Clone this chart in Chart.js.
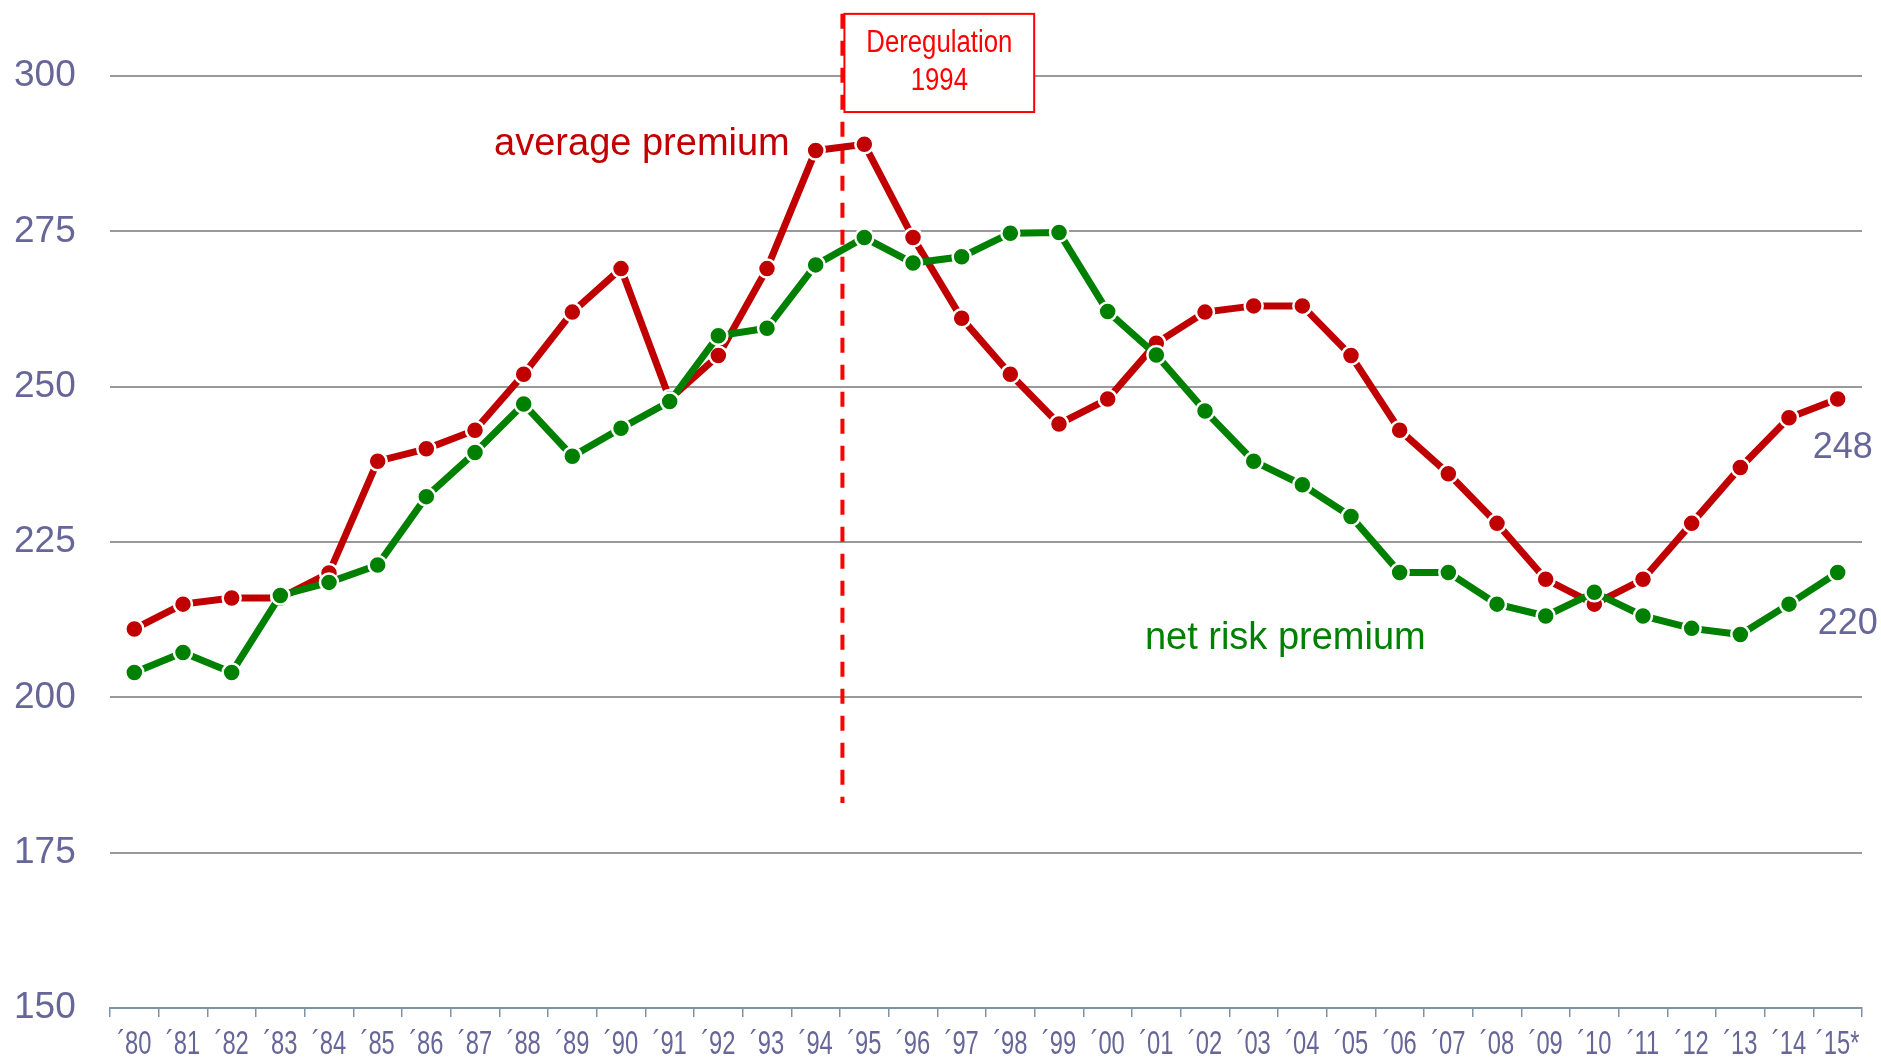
<!DOCTYPE html>
<html>
<head>
<meta charset="utf-8">
<script src="https://cdn.jsdelivr.net/npm/chart.js@4"></script>
<style>
  html, body { margin: 0; padding: 0; background: #ffffff; }
  #wrap { width: 1881px; height: 1059px; position: relative; }
</style>
</head>
<body>
<div id="wrap"><canvas id="premium_chart"></canvas></div>
<script>
// years on the x axis
const years = ['´80', '´81', '´82', '´83', '´84', '´85', '´86', '´87', '´88', '´89',
               '´90', '´91', '´92', '´93', '´94', '´95', '´96', '´97', '´98', '´99',
               '´00', '´01', '´02', '´03', '´04', '´05', '´06', '´07', '´08', '´09',
               '´10', '´11', '´12', '´13', '´14', '´15*'];

// average premium (red)
const averagePremium = [211, 215, 216, 216, 220, 238, 240, 243, 252, 262,
                        269, 248, 255, 269, 288, 289, 274, 261, 252, 244,
                        248, 257, 262, 263, 263, 255, 243, 236, 228, 219,
                        215, 219, 228, 237, 245, 248];

// net risk premium (green)
const netRiskPremium = [204, 207.2, 204, 216.4, 218.5, 221.3, 232.3, 239.4, 247.2, 238.8,
                        243.3, 247.6, 258.2, 259.4, 269.6, 274, 269.9, 270.9, 274.7, 274.8,
                        262.1, 255.1, 246.1, 238, 234.2, 229.1, 220.1, 220.1, 215, 213.1,
                        216.9, 213.1, 211.1, 210.1, 215, 220.1];

const yTicks = [150, 175, 200, 225, 250, 275, 300];

const RED = '#c00000';
const GREEN = '#008000';
const SLATE = '#666699';
const AXIS = '#7f93a6';
const FONT = '"Liberation Sans", Arial, sans-serif';

Chart.defaults.font.family = FONT;

// 1994 deregulation marker (x in category units, y in premium units)
const dereg = { x: 14.55, yTop: 310, yBottom: 183, boxRight: 18.49, boxBottom: 294.2 };

function squeezedText(ctx, text, x, y, sx) {
  ctx.save();
  ctx.translate(x, y);
  ctx.scale(sx, 1);
  ctx.fillText(text, 0, 0);
  ctx.restore();
}

const annotate = {
  id: 'annotate',
  beforeDatasetsDraw(chart) {
    const { ctx, scales: { x, y } } = chart;
    ctx.save();
    ctx.strokeStyle = '#ff0000';
    ctx.lineWidth = 4;
    ctx.setLineDash([15, 12]);
    const px = x.getPixelForValue(dereg.x);
    ctx.beginPath();
    ctx.moveTo(px, y.getPixelForValue(dereg.yTop));
    ctx.lineTo(px, y.getPixelForValue(dereg.yBottom));
    ctx.stroke();
    ctx.restore();
  },
  afterDraw(chart) {
    const { ctx, scales: { x, y } } = chart;
    ctx.save();
    ctx.textAlign = 'center';
    ctx.textBaseline = 'middle';

    // condensed year labels under the axis
    ctx.font = '33px ' + FONT;
    ctx.fillStyle = SLATE;
    years.forEach((t, i) => squeezedText(ctx, t, x.getPixelForTick(i), x.top + 37, 0.72));

    // deregulation box
    const left = x.getPixelForValue(dereg.x) + 2;
    const right = x.getPixelForValue(dereg.boxRight);
    const top = y.getPixelForValue(dereg.yTop);
    const bottom = y.getPixelForValue(dereg.boxBottom);
    ctx.fillStyle = '#ffffff';
    ctx.fillRect(left, top, right - left, bottom - top);
    ctx.strokeStyle = '#ff0000';
    ctx.lineWidth = 2;
    ctx.strokeRect(left, top, right - left, bottom - top);

    ctx.fillStyle = '#ff0000';
    ctx.font = '31px ' + FONT;
    const cx = (left + right) / 2;
    const sx = 146 / ctx.measureText('Deregulation').width;
    const h = bottom - top;
    squeezedText(ctx, 'Deregulation', cx, top + h * 0.30, sx);
    squeezedText(ctx, '1994', cx, top + h * 0.69, sx);

    // series names
    ctx.font = '38px ' + FONT;
    ctx.fillStyle = RED;
    ctx.fillText('average premium', x.getPixelForValue(10.43), y.getPixelForValue(288.9));
    ctx.fillStyle = GREEN;
    ctx.fillText('net risk premium', x.getPixelForValue(23.65), y.getPixelForValue(209.4));

    // end values
    ctx.font = '36px ' + FONT;
    ctx.fillStyle = SLATE;
    const last = years.length - 1;
    const lastRed = averagePremium[last];
    const lastGreen = netRiskPremium[last];
    ctx.fillText(String(Math.round(lastRed)), x.getPixelForValue(last) + 5, y.getPixelForValue(lastRed) + 49);
    ctx.fillText(String(Math.round(lastGreen)), x.getPixelForValue(last) + 10, y.getPixelForValue(lastGreen) + 52);
    ctx.restore();
  }
};

const ctx = document.getElementById('premium_chart');
new Chart(ctx, {
  type: 'line',
  data: {
    labels: years,
    datasets: [
      {
        label: 'average premium',
        data: averagePremium,
        borderColor: RED,
        backgroundColor: RED,
        borderWidth: 7,
        pointRadius: 9,
        pointHoverRadius: 9,
        pointBorderColor: '#ffffff',
        pointBackgroundColor: RED,
        pointBorderWidth: 2.5,
        tension: 0,
        order: 2
      },
      {
        label: 'net risk premium',
        data: netRiskPremium,
        borderColor: GREEN,
        backgroundColor: GREEN,
        borderWidth: 7,
        pointRadius: 9,
        pointHoverRadius: 9,
        pointBorderColor: '#ffffff',
        pointBackgroundColor: GREEN,
        pointBorderWidth: 2.5,
        tension: 0,
        order: 1
      }
    ]
  },
  options: {
    responsive: true,
    maintainAspectRatio: false,
    animation: false,
    layout: { padding: { top: 76, right: 19, bottom: 0, left: 14 } },
    plugins: {
      legend: { display: false },
      tooltip: { enabled: false }
    },
    scales: {
      x: {
        type: 'category',
        offset: true,
        grid: {
          offset: true,
          drawOnChartArea: false,
          drawTicks: true,
          tickLength: 9,
          tickColor: AXIS,
          lineWidth: 1.5
        },
        border: { color: AXIS, width: 2 },
        ticks: { display: false, autoSkip: false },
        afterFit(scale) { scale.height = 51; }
      },
      y: {
        min: 150,
        max: 300,
        afterBuildTicks(scale) { scale.ticks = yTicks.map(v => ({ value: v })); },
        grid: {
          drawTicks: false,
          color: c => (c.tick && c.tick.value === 150 ? 'rgba(0,0,0,0)' : '#999999'),
          lineWidth: 2
        },
        border: { display: false },
        ticks: {
          color: SLATE,
          font: { size: 37 },
          padding: 0,
          crossAlign: 'far'
        },
        afterFit(scale) { scale.width = 96; }
      }
    }
  },
  plugins: [annotate]
});
</script>
</body>
</html>
